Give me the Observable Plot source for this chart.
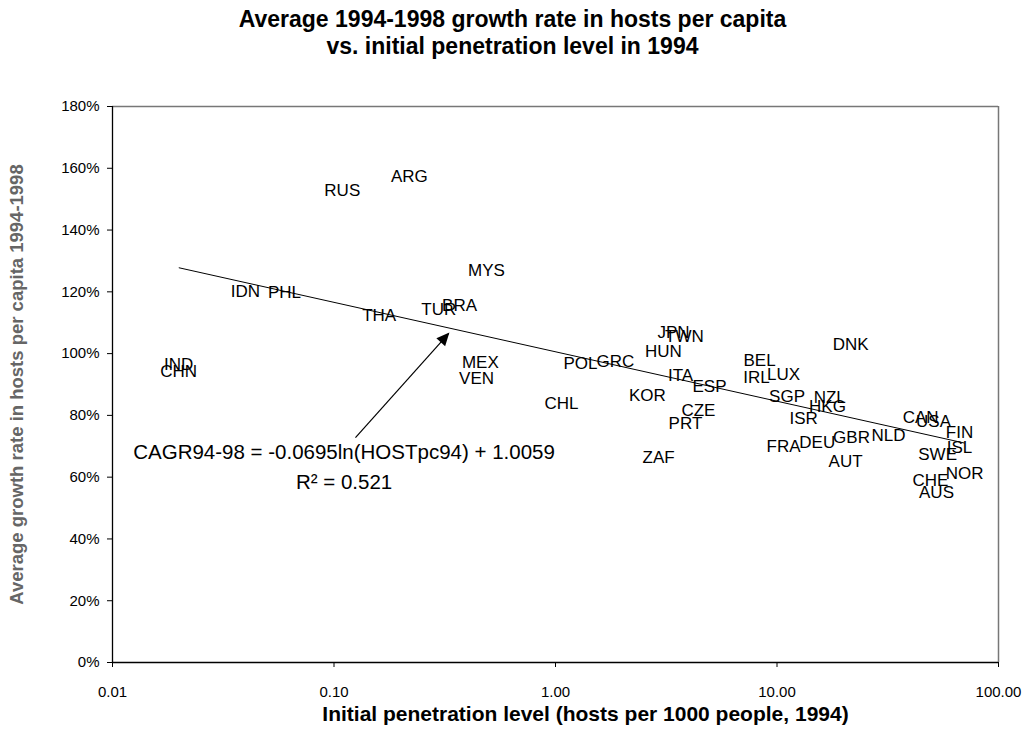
<!DOCTYPE html>
<html>
<head>
<meta charset="utf-8">
<script src="https://cdn.jsdelivr.net/npm/d3@7"></script>
<script src="https://cdn.jsdelivr.net/npm/@observablehq/plot@0.6"></script>
<style>
  html, body { margin: 0; padding: 0; background: #fff; }
  body { width: 1025px; height: 736px; overflow: hidden; font-family: Arial, "Liberation Sans", sans-serif; }
  #title { height: 64px; text-align: center; font-weight: bold; font-size: 23px; line-height: 27px; padding-top: 6px; box-sizing: border-box; color: #000; }
</style>
</head>
<body>
<div id="title">Average 1994-1998 growth rate in hosts per capita<br>vs. initial penetration level in 1994</div>
<div id="chart"></div>
<script>
// Country codes, initial penetration (hosts per 1000 people, 1994), average growth 1994-1998
const countries = ["RUS","ARG","MYS","IDN","PHL","THA","TUR","BRA","IND","CHN","MEX","VEN","CHL","POL","GRC",
  "JPN","TWN","HUN","ITA","ESP","KOR","CZE","PRT","ZAF","BEL","IRL","LUX","DNK","SGP","NZL","HKG","ISR",
  "FRA","DEU","GBR","NLD","AUT","CAN","USA","FIN","ISL","SWE","NOR","CHE","AUS"];
const penetration = [0.109,0.219,0.488,0.0398,0.0598,0.160,0.297,0.369,0.0199,0.0199,0.458,0.440,1.064,1.297,1.866,
  3.41,3.82,3.07,3.67,4.96,2.60,4.42,3.86,2.92,8.34,8.08,10.7,21.5,11.1,17.3,16.9,13.2,
  10.7,15.2,21.7,31.9,20.4,44.5,50.9,66.7,66.7,53.1,70.3,49.3,52.5];
const growth = [1.528,1.573,1.269,1.201,1.198,1.123,1.143,1.156,0.965,0.942,0.971,0.919,0.838,0.968,0.974,
  1.068,1.055,1.007,0.929,0.894,0.864,0.816,0.774,0.664,0.978,0.923,0.932,1.029,0.861,0.858,0.829,0.790,
  0.699,0.712,0.728,0.735,0.651,0.793,0.780,0.745,0.696,0.673,0.612,0.589,0.550];

// Trend line as printed on the chart: CAGR94-98 = -0.0695 ln(HOSTpc94) + 1.0059
const trendSlope = -0.0695;
const trendIntercept = 1.0059;
const trendX = [0.02, 70];

// Annotation
const equationText = "CAGR94-98 = -0.0695ln(HOSTpc94) + 1.0059";
const r2Text = "R² = 0.521";
const annotationX = 0.111;
const equationY = 0.680;
const r2Y = 0.583;
const arrowFrom = {x: 0.125, y: 0.728};
const arrowTo = {x: 0.329, y: 1.065};

// Axes
const xTicks = [0.01, 0.1, 1, 10, 100];
const yTicks = [0, 0.2, 0.4, 0.6, 0.8, 1.0, 1.2, 1.4, 1.6, 1.8];
const xTitle = "Initial penetration level (hosts per 1000 people, 1994)";
const yTitle = "Average growth rate in hosts per capita 1994-1998";

const data = countries.map((c, i) => ({code: c, x: penetration[i], y: growth[i]}));
const trend = trendX.map(x => ({x, y: trendSlope * Math.log(x) + trendIntercept}));

function filledArrow(color, context) {
  const m = d3.create("svg:marker")
    .attr("viewBox", "0 -5 10 10")
    .attr("markerWidth", 15)
    .attr("markerHeight", 13)
    .attr("refX", 9)
    .attr("refY", 0)
    .attr("orient", "auto")
    .attr("markerUnits", "userSpaceOnUse")
    .attr("fill", color)
    .attr("stroke", "none");
  m.append("path").attr("d", "M0,-4.5L10,0L0,4.5Z");
  return m.node();
}

function build(marker) {
  return Plot.plot({
    width: 1025,
    height: 672,
    marginLeft: 112,
    marginRight: 27,
    marginTop: 42,
    marginBottom: 74,
    style: {fontFamily: "Arial, 'Liberation Sans', sans-serif", background: "#fff", color: "#000"},
    x: {type: "log", domain: [0.01, 100]},
    y: {domain: [0, 1.8]},
    marks: [
      Plot.ruleY([1.8], {stroke: "#777", strokeWidth: 1.5}),
      Plot.ruleX([100], {stroke: "#777", strokeWidth: 1.5}),
      Plot.axisX({ticks: xTicks, tickFormat: d3.format(".2f"), tickSize: 5, tickPadding: 19, fontSize: 15, label: null, stroke: "#000"}),
      Plot.axisY({ticks: yTicks, tickFormat: d3.format(".0%"), tickSize: 5, tickPadding: 8, fontSize: 15, label: null, stroke: "#000"}),
      Plot.ruleX([0.01], {stroke: "#000", strokeWidth: 1.3}),
      Plot.ruleY([0], {stroke: "#000", strokeWidth: 1.3}),
      Plot.line(trend, {x: "x", y: "y", stroke: "#000", strokeWidth: 1}),
      Plot.text(data, {x: "x", y: "y", text: "code", fontSize: 17, fill: "#000", textAnchor: "middle"}),
      Plot.link([arrowFrom], {x1: "x", y1: "y", x2: () => arrowTo.x, y2: () => arrowTo.y, stroke: "#000", strokeWidth: 1.2, markerEnd: marker}),
      Plot.text([equationText], {x: () => annotationX, y: () => equationY, text: d => d, fontSize: 20.5, fill: "#000", textAnchor: "middle"}),
      Plot.text([r2Text], {x: () => annotationX, y: () => r2Y, text: d => d, fontSize: 20.5, fill: "#000", textAnchor: "middle"}),
      Plot.text([xTitle], {frameAnchor: "bottom", dy: 58, dx: 30, text: d => d, fontSize: 21, fontWeight: "bold", fill: "#000", textAnchor: "middle"}),
      Plot.text([yTitle], {frameAnchor: "left", dx: -95, rotate: -90, text: d => d, fontSize: 18.5, fontWeight: "bold", fill: "#666", textAnchor: "middle"})
    ]
  });
}

let chart;
try { chart = build(filledArrow); } catch (e) { chart = build("arrow"); }
document.getElementById("chart").appendChild(chart);
</script>
</body>
</html>
